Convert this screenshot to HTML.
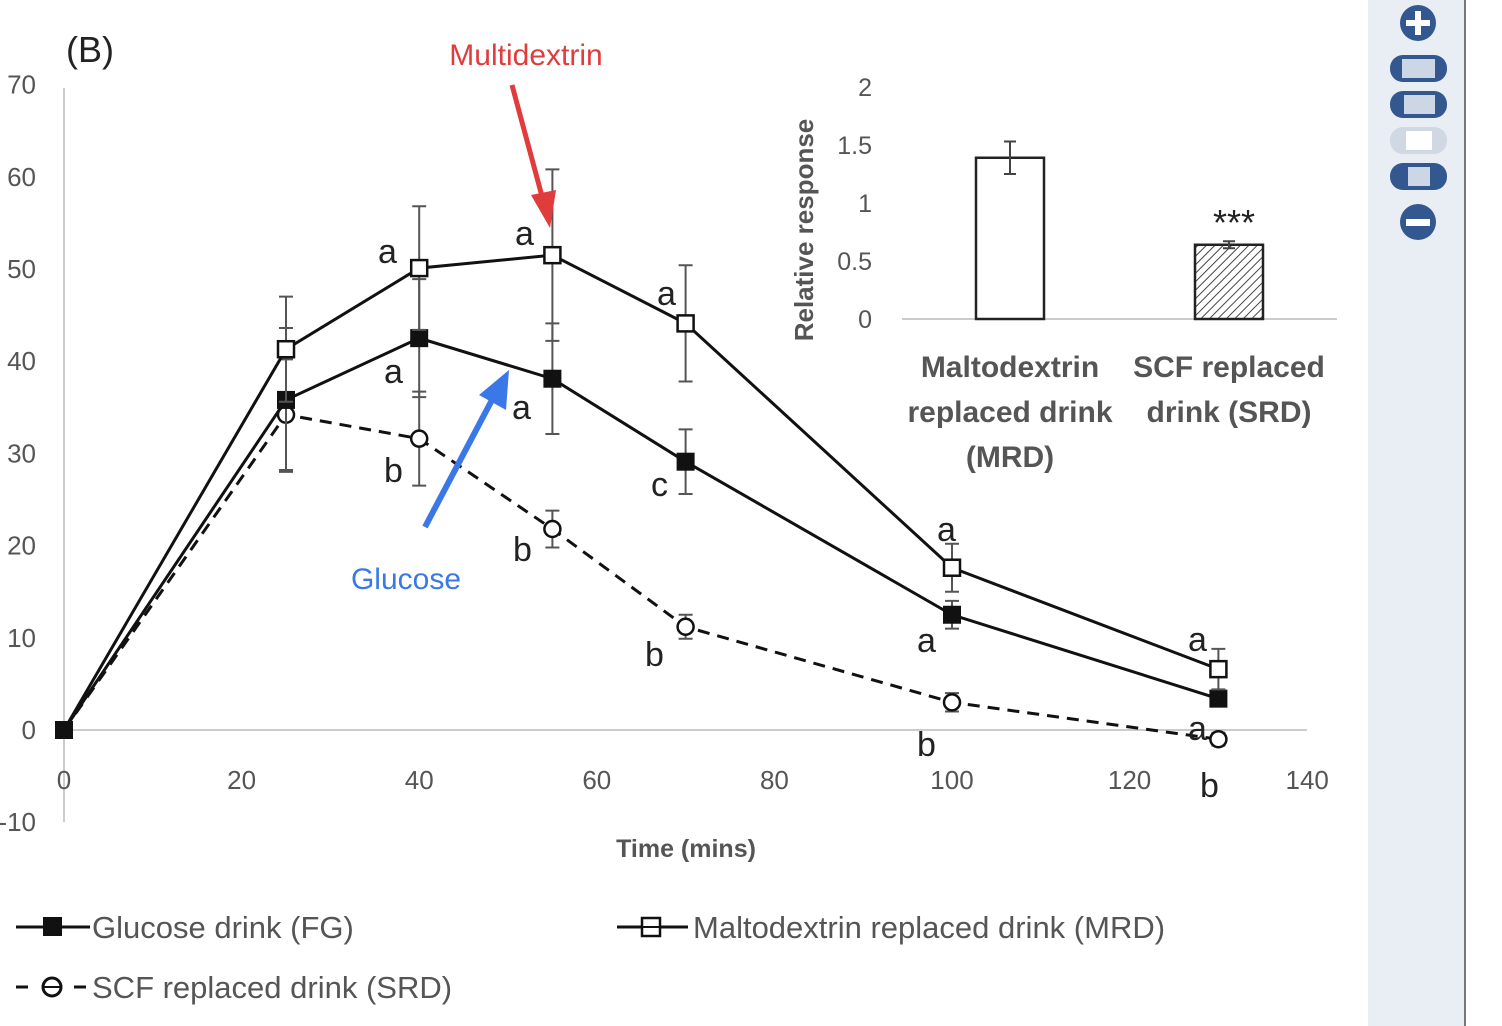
<!DOCTYPE html>
<html><head><meta charset="utf-8"><style>
html,body{margin:0;padding:0;background:#fff;}
svg{display:block;font-family:"Liberation Sans",sans-serif;}
</style></head><body>
<svg id="chart" width="1502" height="1026" viewBox="0 0 1502 1026">
<defs>
<pattern id="hatch" width="6" height="6" patternUnits="userSpaceOnUse" patternTransform="rotate(45)">
<rect width="6" height="6" fill="#fff"/><line x1="0" y1="0" x2="0" y2="6" stroke="#444" stroke-width="2"/>
</pattern>
</defs>
<rect x="1368" y="0" width="97" height="1026" fill="#e9edf4"/>
<line x1="1465" y1="0" x2="1465" y2="1026" stroke="#777" stroke-width="2"/>
<g><circle cx="1418" cy="23" r="18" fill="#33578f"/><rect x="1406" y="20" width="24" height="6" fill="#fff"/><rect x="1415" y="11" width="6" height="24" fill="#fff"/></g>
<g><rect x="1390" y="55" width="57" height="27" rx="13" fill="#33578f"/><rect x="1402" y="59" width="33" height="19" fill="#ccd6e4"/></g>
<g><rect x="1390" y="91" width="57" height="27" rx="13" fill="#33578f"/><rect x="1404" y="95" width="31" height="19" fill="#ccd6e4"/></g>
<g><rect x="1390" y="127" width="57" height="27" rx="13" fill="#d0d8e3"/><rect x="1406" y="131" width="26" height="19" fill="#fff"/></g>
<g><rect x="1390" y="163" width="57" height="27" rx="13" fill="#33578f"/><rect x="1408" y="167" width="22" height="19" fill="#ccd6e4"/></g>
<g><circle cx="1418" cy="222" r="18" fill="#33578f"/><rect x="1406" y="219" width="24" height="7" fill="#fff"/></g>

<text x="66" y="62" font-size="36" fill="#222">(B)</text>
<g id="main"></g>
<g id="inset"></g>
<text x="686" y="857" font-size="25" font-weight="bold" fill="#555" text-anchor="middle">Time (mins)</text>

<g font-size="34" fill="#222">
<text x="378" y="263">a</text><text x="515" y="245">a</text><text x="657" y="305">a</text>
<text x="384" y="383">a</text><text x="512" y="419">a</text><text x="651" y="496">c</text>
<text x="384" y="482">b</text><text x="513" y="561">b</text><text x="645" y="666">b</text>
<text x="937" y="541">a</text><text x="917" y="652">a</text><text x="917" y="756">b</text>
<text x="1188" y="651">a</text><text x="1188" y="740">a</text><text x="1200" y="797">b</text>
</g>

<g>
<text x="526" y="65" font-size="30" fill="#e03c3c" text-anchor="middle">Multidextrin</text>
<line x1="512" y1="85" x2="543" y2="200" stroke="#e03c3c" stroke-width="5"/>
<polygon points="531,195 556,190 550,228" fill="#e03c3c"/>
</g>
<g>
<text x="406" y="589" font-size="30" fill="#3a78e8" text-anchor="middle">Glucose</text>
<line x1="425" y1="527" x2="493" y2="398" stroke="#3a78e8" stroke-width="6"/>
<polygon points="479,395 509,370 506,410" fill="#3a78e8"/>
</g>

<g font-size="31" fill="#555">
<g><line x1="16" y1="927" x2="90" y2="927" stroke="#111" stroke-width="3"/><rect x="43" y="917" width="19" height="19" fill="#111"/><text x="92" y="938">Glucose drink (FG)</text></g>
<g><line x1="617" y1="927" x2="688" y2="927" stroke="#111" stroke-width="3"/><rect x="642" y="918" width="18" height="18" fill="#fff" stroke="#111" stroke-width="2.5"/><line x1="642" y1="927" x2="660" y2="927" stroke="#111" stroke-width="2"/><text x="693" y="938">Maltodextrin replaced drink (MRD)</text></g>
<g><line x1="16" y1="987" x2="28" y2="987" stroke="#111" stroke-width="3"/><circle cx="52" cy="987" r="9" fill="#fff" stroke="#111" stroke-width="3"/><line x1="43" y1="987" x2="61" y2="987" stroke="#111" stroke-width="2"/><line x1="74" y1="987" x2="86" y2="987" stroke="#111" stroke-width="3"/><text x="92" y="998">SCF replaced drink (SRD)</text></g>
</g>
</svg>
<script>
const times = [0, 25, 40, 55, 70, 100, 130];
const fgValues = [0, 35.8, 42.5, 38.1, 29.1, 12.5, 3.4];
const fgErrors = [0, 7.8, 6.4, 6.0, 3.5, 1.5, 0.8];
const mrdValues = [0, 41.3, 50.1, 51.5, 44.1, 17.6, 6.6];
const mrdErrors = [0, 5.7, 6.7, 9.3, 6.3, 2.6, 2.2];
const srdValues = [0, 34.2, 31.6, 21.8, 11.2, 3.0, -1.0];
const srdErrors = [0, 6.0, 5.1, 2.0, 1.3, 1.0, 0.7];
const xTicks = [0, 20, 40, 60, 80, 100, 120, 140];
const yTicks = [-10, 0, 10, 20, 30, 40, 50, 60, 70];
const insetCats = ["MRD", "SRD"];
const insetValues = [1.39, 0.64];
const insetErrors = [0.14, 0.03];
const insetTicks = [0, 0.5, 1, 1.5, 2];

const NS = "http://www.w3.org/2000/svg";
const xS = v => 64 + v * 8.88;
const yS = v => 730 - v * 9.22;
function mk(tag, attrs, parent, text){
  const e = document.createElementNS(NS, tag);
  for (const k in attrs) e.setAttribute(k, attrs[k]);
  if (text !== undefined) e.textContent = text;
  parent.appendChild(e); return e;
}
const main = document.getElementById("main");
// axes
let ya = mk("line",{x1:64,y1:88,x2:64,y2:822,stroke:"#ccc","stroke-width":2},main);


let xa = mk("line",{x1:64,y1:730,x2:1307,y2:730,stroke:"#ccc","stroke-width":2},main);


yTicks.forEach(t=>{
  const e = mk("text",{x:36,y:yS(t)+9,"font-size":26,fill:"#555","text-anchor":"end"},main,String(t));
  
  
});
xTicks.forEach(t=>{
  const e = mk("text",{x:xS(t),y:789,"font-size":26,fill:"#555","text-anchor":"middle"},main,String(t));
  
  
});
function series(vals, errs, name, dash, marker){
  const g = mk("g",{},main);
  
  
  vals.forEach((v,i)=>{
    if(!errs[i]) return;
    const x=xS(times[i]), y1=yS(v+errs[i]), y2=yS(v-errs[i]);
    const eb = mk("path",{d:`M${x},${y1}V${y2}M${x-7},${y1}H${x+7}M${x-7},${y2}H${x+7}`,stroke:"#555","stroke-width":2,fill:"none"},g);
    
    
  });
  const pts = vals.map((v,i)=>xS(times[i])+","+yS(v)).join(" ");
  const pl = mk("polyline",{points:pts,fill:"none",stroke:"#111","stroke-width":3,"stroke-dasharray":dash},g);
  
  
  vals.forEach((v,i)=>{
    const x=xS(times[i]), y=yS(v); let m;
    if(i===0 || marker==="fill"){ m = mk("rect",{x:x-9,y:y-9,width:18,height:18,fill:"#111"},g); }
    else if(marker==="sq"){ m = mk("rect",{x:x-8,y:y-8,width:16,height:16,fill:"#fff",stroke:"#111","stroke-width":2.5},g); }
    else { m = mk("circle",{cx:x,cy:y,r:8,fill:"#fff",stroke:"#111","stroke-width":2.5},g); }
    
    
  });
}
series(srdValues, srdErrors, "srd", "12,8", "circ");
series(fgValues, fgErrors, "fg", "none", "fill");
series(mrdValues, mrdErrors, "mrd", "none", "sq");

// inset
const inset = document.getElementById("inset");
const iy = v => 319 - v * 116;
const ixc = [1010, 1229];
insetTicks.forEach(t=>{
  const e = mk("text",{x:872,y:iy(t)+9,"font-size":25,fill:"#555","text-anchor":"end"},inset,String(t));
  
  
});
let ib = mk("line",{x1:902,y1:319,x2:1337,y2:319,stroke:"#ccc","stroke-width":2},inset);


let it = mk("text",{transform:"translate(813,230) rotate(-90)","font-size":26,"font-weight":"bold",fill:"#555","text-anchor":"middle"},inset,"Relative response");


insetValues.forEach((v,i)=>{
  const b = mk("rect",{x:ixc[i]-34,y:iy(v),width:68,height:319-iy(v),fill:i?"url(#hatch)":"#fff",stroke:"#222","stroke-width":2.5},inset);
  
  
  const y1=iy(v+insetErrors[i]), y2=iy(v-insetErrors[i]), x=ixc[i];
  const eb = mk("path",{d:`M${x},${y1}V${y2}M${x-6},${y1}H${x+6}M${x-6},${y2}H${x+6}`,stroke:"#444","stroke-width":2,fill:"none"},inset);
  
  
});
let st = mk("text",{x:ixc[1]+5,y:iy(insetValues[1])-10,"font-size":36,fill:"#222","text-anchor":"middle"},inset,"***");


const lab = [["Maltodextrin","replaced drink","(MRD)"],["SCF replaced","drink (SRD)"]];
lab.forEach((lines,i)=>lines.forEach((l,j)=>{
  const e = mk("text",{x:ixc[i],y:377+j*45,"font-size":30,"font-weight":"bold",fill:"#555","text-anchor":"middle"},inset,l);
  
  
}));
</script>
</body></html>
